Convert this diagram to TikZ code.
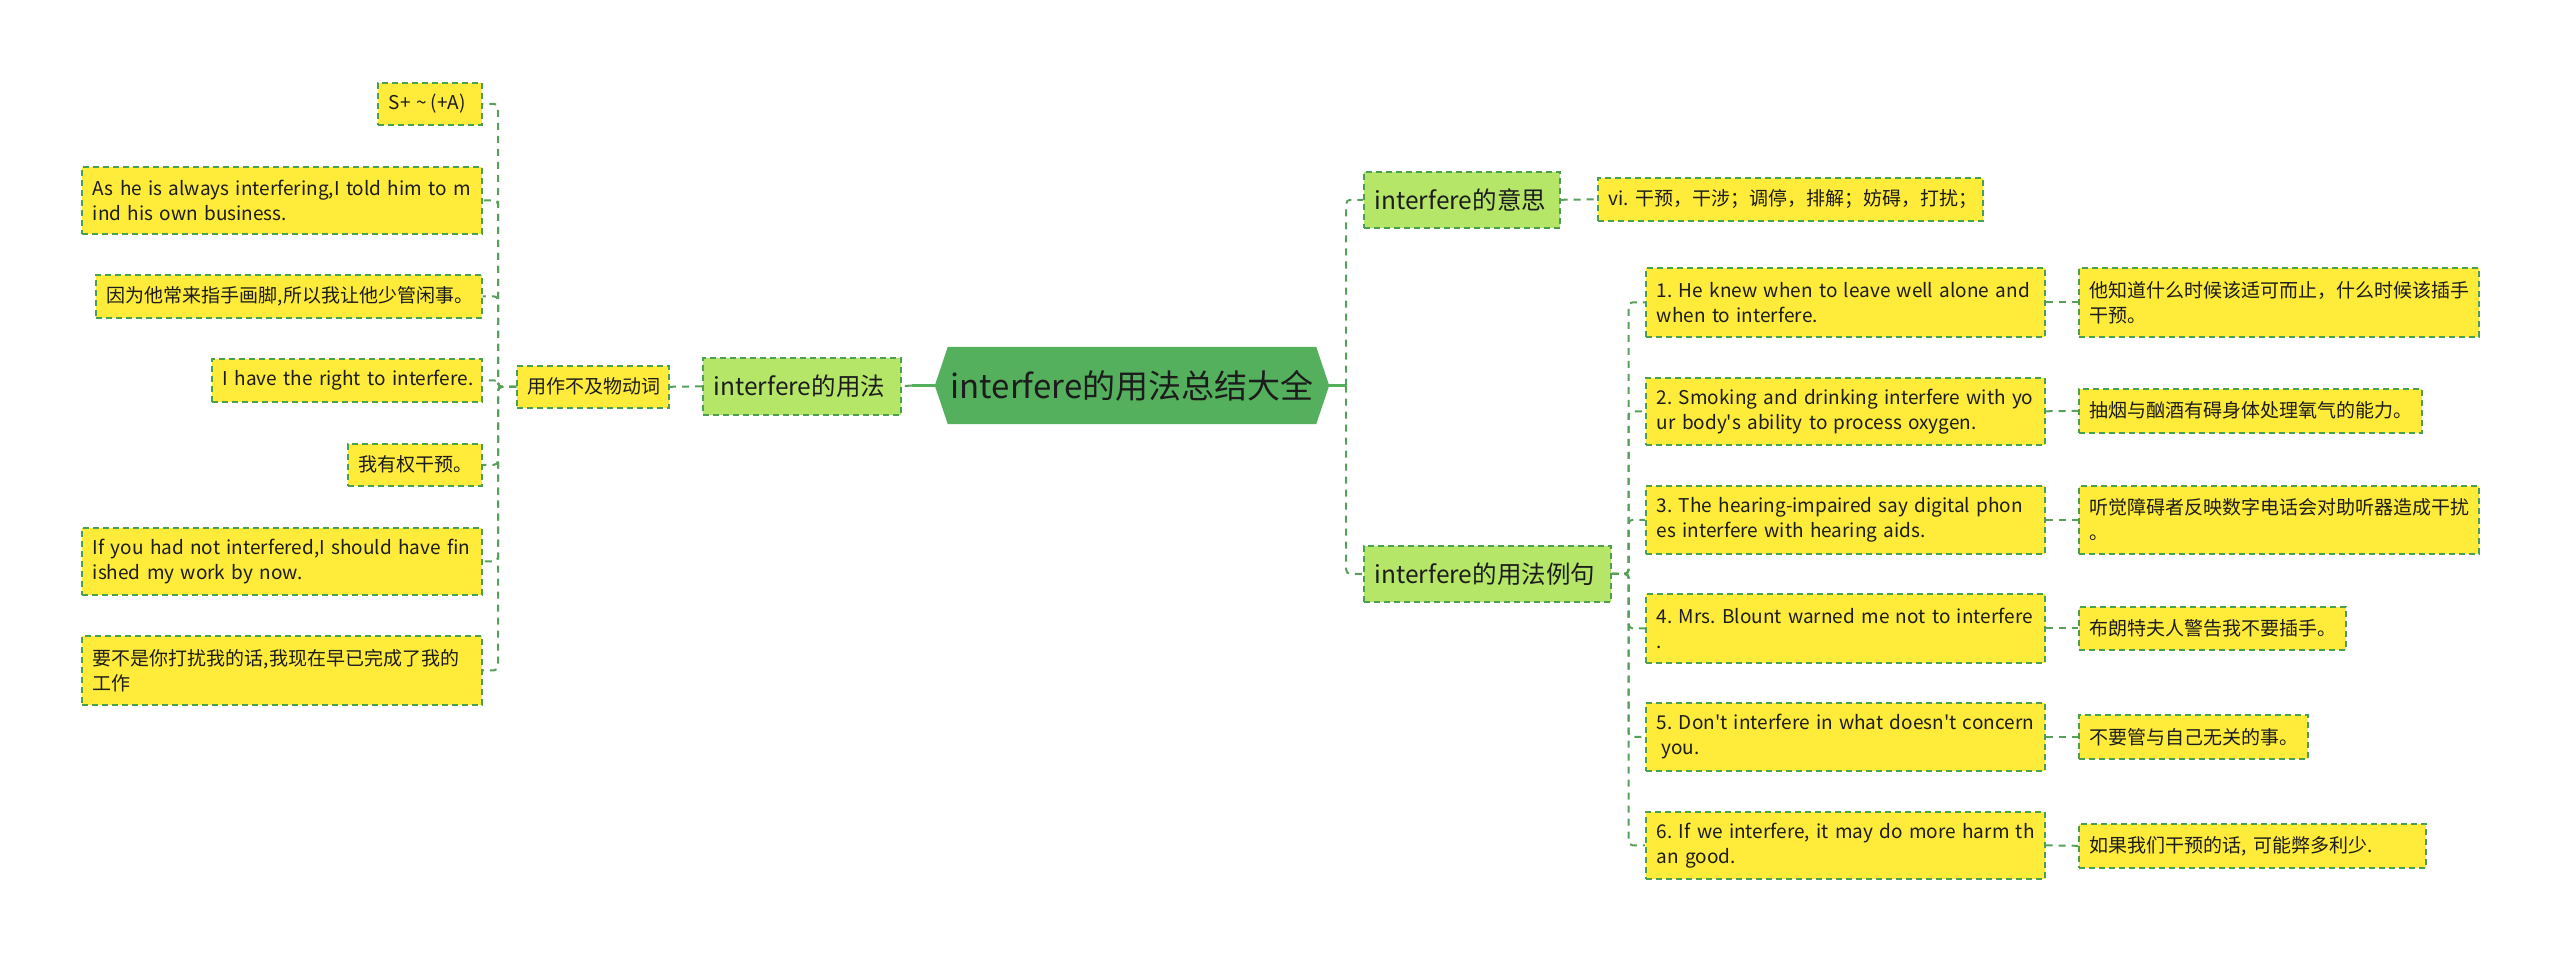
\documentclass[tikz,border=0pt]{standalone}
\usepackage{fontspec}
\setmainfont{Noto Sans CJK SC}
\usetikzlibrary{backgrounds}
\frenchspacing
\newcommand{\ol}[1]{\mbox{#1}}
\newcommand{\ap}{\textquotesingle}
\definecolor{rootgreen}{RGB}{84,176,92}
\definecolor{midgreen}{RGB}{181,230,104}
\definecolor{leafyellow}{RGB}{255,235,58}
\definecolor{bordergreen}{RGB}{76,158,80}
\definecolor{linegreen}{RGB}{88,160,90}
\definecolor{txt}{RGB}{28,28,28}
\tikzset{
  base/.style={draw=bordergreen, line width=1.6pt, dash pattern=on 6pt off 4pt,
    inner xsep=11pt, inner ysep=3pt, align=left, anchor=north west, text=txt},
  leaf/.style={base, fill=leafyellow, font=\fontsize{19}{25}\selectfont},
  midnode/.style={base, fill=midgreen, font=\fontsize{24.5}{30}\selectfont},
  conn/.style={draw=linegreen, line width=2pt, dash pattern=on 7pt off 6pt, rounded corners=4pt},
  solidconn/.style={draw=rootgreen, line width=3pt},
  rootnode/.style={inner sep=0pt, minimum width=394pt, minimum height=77pt, text=txt,
    font=\fontsize{33}{40}\selectfont}
}
\begin{document}
\begin{tikzpicture}[x=1pt,y=-1pt]
\useasboundingbox (0,0) rectangle (2560,960);
% root
\node[rootnode] (root) at (1132,385.5) {interfere的用法总结大全};
\begin{scope}[on background layer]
\fill[rootgreen] (root.west) -- ([xshift=13pt]root.north west) -- ([xshift=-13pt]root.north east)
  -- (root.east) -- ([xshift=-13pt]root.south east) -- ([xshift=13pt]root.south west) -- cycle;
\end{scope}
% left branch
\node[midnode, text width=176pt, minimum height=57pt] (yf) at (702,357) {\ol{interfere的用法}};
\node[leaf, text width=130pt, minimum height=42pt] (yz) at (516,365) {\ol{用作不及物动词}};
\node[leaf, text width=82pt, minimum height=42pt] (L1) at (377,82) {\ol{S+ \textasciitilde\,(+A)}};
\node[leaf, text width=378pt, minimum height=67pt] (L2) at (81,166) {\ol{As he is always interfering,I told him to m}\\\ol{ind his own business.}};
\node[leaf, text width=364pt, minimum height=43pt] (L3) at (95,274) {\ol{因为他常来指手画脚,所以我让他少管闲事。}};
\node[leaf, text width=248pt, minimum height=43pt] (L4) at (211,358) {\ol{I have the right to interfere.}};
\node[leaf, text width=112pt, minimum height=42pt] (L5) at (347,443) {\ol{我有权干预。}};
\node[leaf, text width=378pt, minimum height=67pt] (L6) at (81,527) {\ol{If you had not interfered,I should have fin}\\\ol{ished my work by now.}};
\node[leaf, text width=378pt, minimum height=69pt] (L7) at (81,635) {\ol{要不是你打扰我的话,我现在早已完成了我的}\\\ol{工作}};
% right branch
\node[midnode, text width=174pt, minimum height=56pt] (yisi) at (1363,171) {\ol{interfere的意思}};
\node[leaf, text width=363pt, minimum height=43pt] (vi) at (1597,177) {\ol{vi. 干预，干涉；调停，排解；妨碍，打扰；}};
\node[midnode, text width=225pt, minimum height=56pt] (liju) at (1363,545) {\ol{interfere的用法例句}};
\node[leaf, text width=377pt, minimum height=69pt] (E1) at (1645,267) {\ol{1. He knew when to leave well alone and}\\\ol{when to interfere.}};
\node[leaf, text width=377pt, minimum height=67pt] (E2) at (1645,377) {\ol{2. Smoking and drinking interfere with yo}\\\ol{ur body\ap s ability to process oxygen.}};
\node[leaf, text width=377pt, minimum height=68pt] (E3) at (1645,485) {\ol{3. The hearing-impaired say digital phon}\\\ol{es interfere with hearing aids.}};
\node[leaf, text width=377pt, minimum height=69pt] (E4) at (1645,593) {\ol{4. Mrs. Blount warned me not to interfere}\\\ol{.}};
\node[leaf, text width=377pt, minimum height=68pt] (E5) at (1645,702) {\ol{5. Don\ap t interfere in what doesn\ap t concern}\\\ol{\hspace*{0.25em}you.}};
\node[leaf, text width=377pt, minimum height=67pt] (E6) at (1645,811) {\ol{6. If we interfere, it may do more harm th}\\\ol{an good.}};
\node[leaf, text width=378pt, minimum height=69pt] (T1) at (2078,267) {\ol{他知道什么时候该适可而止，什么时候该插手}\\\ol{干预。}};
\node[leaf, text width=321pt, minimum height=44pt] (T2) at (2078,388) {\ol{抽烟与酗酒有碍身体处理氧气的能力。}};
\node[leaf, text width=378pt, minimum height=68pt] (T3) at (2078,485) {\ol{听觉障碍者反映数字电话会对助听器造成干扰}\\\ol{。}};
\node[leaf, text width=245pt, minimum height=43pt] (T4) at (2078,606) {\ol{布朗特夫人警告我不要插手。}};
\node[leaf, text width=207pt, minimum height=44pt] (T5) at (2078,714) {\ol{不要管与自己无关的事。}};
\node[leaf, text width=325pt, minimum height=44pt] (T6) at (2078,823) {\ol{如果我们干预的话, 可能弊多利少.}};
% connectors
\coordinate (lj) at ([xshift=-23pt]root.west);
\draw[solidconn] (root.west) -- (lj);
\draw[conn] (lj) -- (yf.east);
\draw[conn] (yf.west) -- (yz.east);
\foreach \n in {L1,L2,L3,L4,L5,L6,L7}{
  \draw[conn] (yz.west) -- ++(-18,0) |- (\n.east);
}
\coordinate (rj) at ([xshift=17pt]root.east);
\draw[solidconn] (root.east) -- (rj);
\draw[conn] (rj) |- (yisi.west);
\draw[conn] (rj) |- (liju.west);
\draw[conn] (yisi.east) -- (vi.west);
\foreach \n in {E1,E2,E3,E4,E5,E6}{
  \draw[conn] (liju.east) -- ++(17,0) |- (\n.west);
}
\foreach \a/\b in {E1/T1,E2/T2,E3/T3,E4/T4,E5/T5,E6/T6}{
  \draw[conn] (\a.east) -- (\b.west);
}
\end{tikzpicture}
\end{document}
